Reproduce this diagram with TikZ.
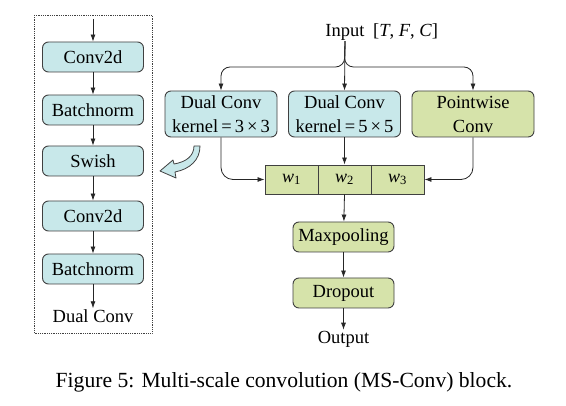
\documentclass[tikz,border=0pt]{standalone}
\usepackage{fontspec}
\setmainfont{Liberation Serif}
\usetikzlibrary{arrows.meta,positioning}

\definecolor{convblue}{RGB}{200,232,234}
\definecolor{convgreen}{RGB}{214,227,170}
\definecolor{edgegray}{RGB}{64,64,64}

\tikzset{
  blk/.style={draw=edgegray, line width=0.9pt, rounded corners=6pt, minimum height=30pt, inner sep=2pt, align=center, font=\fontsize{18.5}{24}\selectfont},
  blueblk/.style={blk, fill=convblue},
  greenblk/.style={blk, fill=convgreen},
  wcell/.style={draw=edgegray, line width=0.9pt, fill=convgreen, minimum width=53pt, minimum height=29pt, inner sep=0pt, font=\fontsize{18}{20}\selectfont},
  flow/.style={-{Latex[length=7pt,width=5pt]}, line width=0.8pt, draw=black!85},
  lbl/.style={font=\fontsize{18.5}{20}\selectfont, inner sep=1pt}
}

\begin{document}
\begin{tikzpicture}[x=1pt,y=-1pt]
        \useasboundingbox (0,0) rectangle (566,406);
        \fill[white] (0,0) rectangle (566,406);

        % inside of a dual conv
        \draw[densely dotted, edgegray, line width=0.8pt] (34,15) rectangle (152,333);
        \coordinate (dtop) at (93,19);
        \foreach \y/\n/\t in {57/c1/Conv2d, 110/b1/Batchnorm, 161/sw/Swish, 216/c2/Conv2d, 269/b2/Batchnorm}
        \node[blueblk, minimum width=101pt] (\n) at (93,\y) {\t};
        \node[lbl] (dlbl) at (93,316) {Dual Conv};
        \foreach \a/\b in {dtop/c1, c1/b1, b1/sw, sw/c2, c2/b2, b2/dlbl}
        \draw[flow] (\a) -- (\b);

        % input and branches
        \node[lbl] (in) at (345,32) {Input};
        \node[lbl, anchor=west] (shape) at (372,32) {[\textit{T}, \textit{F}, \textit{C}]};
        \node[blueblk, minimum width=112pt, minimum height=46pt] (dc1) at (221,114) {Dual Conv\\kernel\,=\,3\,×\,3};
        \node[blueblk, minimum width=112pt, minimum height=46pt] (dc2) at (344.5,114) {Dual Conv\\kernel\,=\,5\,×\,5};
        \node[greenblk, minimum width=122pt, minimum height=46pt] (pw) at (473,114) {Pointwise\\Conv};

        \draw[flow, rounded corners=9pt] (in.south) -- (344.5,67) -| (dc1.north);
        \draw[flow, rounded corners=9pt] (in.south) -- (344.5,67) -| (pw.north);
        \draw[flow] (in.south) -- (dc2.north);

        % weights
        \foreach \i/\x in {1/291.5, 2/344.5, 3/397.5}
        \node[wcell] (w\i) at (\x,179.5) {\textit{w}\textsubscript{\i}};

        \draw[flow, rounded corners=12pt] (dc1.south) |- (w1.west);
        \draw[flow] (dc2.south) -- (w2.north);
        \draw[flow, rounded corners=12pt] (pw.south) |- (w3.east);

        % tail
        \node[greenblk, minimum width=101pt] (mp) at (343.5,237) {Maxpooling};
        \node[greenblk, minimum width=101pt] (dp) at (343.5,293) {Dropout};
        \node[lbl] (out) at (343.5,339) {Output};
        \draw[flow] (w2.south) -- (mp);
        \draw[flow] (mp) -- (dp);
        \draw[flow] (dp) -- (out);

        % hollow arrow to the left
        \draw[edgegray, fill=convblue, line width=0.8pt, line join=round]
        (194,146) .. controls (194,156) and (186,162) .. (174,164) -- (173,160) -- (160,171)
        -- (176,178) -- (175,172) .. controls (190,169) and (200,160) .. (200,146) -- cycle;

        \node[font=\fontsize{21.6}{24}\selectfont] (cap) at (284,382) {Figure 5: Multi-scale convolution (MS-Conv) block.};
\end{tikzpicture}
\end{document}
